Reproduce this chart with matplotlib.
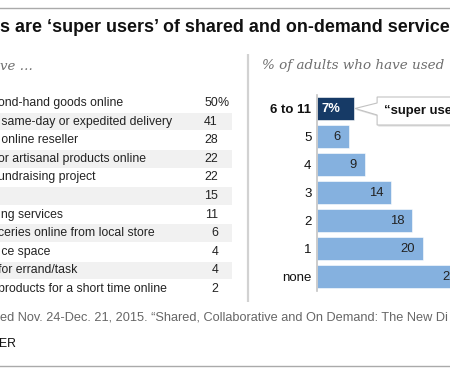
import matplotlib
matplotlib.use("Agg")
import matplotlib.pyplot as plt
from matplotlib.patches import Polygon

# ---- data ----
title = "s are \u2018super users\u2019 of shared and on-demand service"
left_sub = "ve \u2026"
right_sub = "% of adults who have used"
activity_labels = [
    "ond-hand goods online",
    " same-day or expedited delivery",
    " online reseller",
    "or artisanal products online",
    "undraising project",
    "",
    "ing services",
    "ceries online from local store",
    " ce space",
    "for errand/task",
    "products for a short time online",
]
activity_values = [50, 41, 28, 22, 22, 15, 11, 6, 4, 4, 2]
count_labels = ["6 to 11", "5", "4", "3", "2", "1", "none"]
count_values = [7, 6, 9, 14, 18, 20, 28]
callout_text = "\u201csuper users\u201d"
source_text = "ed Nov. 24-Dec. 21, 2015. \u201cShared, Collaborative and On Demand: The New Di"
org_text = "ER"

W, H = 450, 375
SANS = ["Liberation Sans", "DejaVu Sans"]
SERIF = ["DejaVu Serif"]
DARK = "#163a66"
LIGHT = "#85b1df"
TXT = "#222222"

fig = plt.figure(figsize=(4.5, 3.75), dpi=100)

def frac(x0, y0, x1, y1):
    return [x0 / W, 1 - y1 / H, (x1 - x0) / W, (y1 - y0) / H]

# overlay in pixel coordinates
ov = fig.add_axes([0, 0, 1, 1], zorder=5)
ov.set_xlim(0, W)
ov.set_ylim(H, 0)
ov.axis("off")
ov.patch.set_visible(False)

ov.axhline(8, color="#aaaaaa", lw=1)
ov.axhline(366, color="#aaaaaa", lw=1)
ov.plot([247.5, 247.5], [54, 302], color="#d2d2d2", lw=1.6, solid_capstyle="butt")

ov.text(0.5, 28, title, fontsize=12.85, fontweight="bold", family=SANS,
        ha="left", va="center", color="#111111")
ov.text(-0.5, 66, left_sub, fontsize=9.5, style="italic", family=SERIF,
        ha="left", va="center", color="#6f6f6f")
ov.text(262, 66, right_sub, fontsize=9.7, style="italic", family=SERIF,
        ha="left", va="center", color="#6f6f6f")
ov.text(-0.5, 318, source_text, fontsize=9.2, family=SANS,
        ha="left", va="center", color="#666666")
ov.text(-0.5, 344, org_text, fontsize=8.8, family=SANS,
        ha="left", va="center", color="#111111")

# ---- left table ----
n = len(activity_labels)
tab = fig.add_axes(frac(0, 93.7, 248, 298.3), zorder=1)
tab.set_xlim(0, 248)
tab.set_ylim(n - 0.5, -0.5)
tab.axis("off")
for i, (lab, val) in enumerate(zip(activity_labels, activity_values)):
    if i % 2 == 1:
        tab.axhspan(i - 0.47, i + 0.47, xmin=0, xmax=232 / 248,
                    color="#f1f1f1", lw=0, zorder=0)
    tab.text(-1.5, i, lab, fontsize=8.8, family=SANS, ha="left",
             va="center", color=TXT)
    tab.text(218, i, str(val), fontsize=8.9, family=SANS, ha="right",
             va="center", color=TXT)
    if i == 0:
        tab.text(218, i, "%", fontsize=8.9, family=SANS, ha="left",
                 va="center", color=TXT)

# ---- right bar chart ----
scale = 5.3  # px per unit
xmax = 30
ax = fig.add_axes(frac(317, 94.5, 317 + scale * xmax, 290.5), zorder=2)
ax.set_xlim(0, xmax)
ax.set_ylim(len(count_values) - 0.5, -0.5)
ax.patch.set_visible(False)
colors = [DARK] + [LIGHT] * (len(count_values) - 1)
ax.barh(range(len(count_values)), count_values, height=0.79,
        color=colors, edgecolor="white", linewidth=0.4)
for s in ["top", "right", "bottom"]:
    ax.spines[s].set_visible(False)
ax.spines["left"].set_color("#c4c4c4")
ax.spines["left"].set_linewidth(1.2)
ax.set_xticks([])
ax.set_yticks(range(len(count_labels)))
ax.set_yticklabels(count_labels, fontsize=9.5, family=SANS, color="#111111")
ax.get_yticklabels()[0].set_fontweight("bold")
ax.tick_params(axis="y", length=0, pad=4)

for i, v in enumerate(count_values):
    lab = f"{v}%" if i == 0 else str(v)
    pad = 10 if i == 0 else 5.8
    ax.annotate(lab, xy=(v, i), xytext=(-pad, 0), textcoords="offset points",
                ha="right", va="center", fontsize=9.4, family=SANS,
                color="white" if i == 0 else TXT,
                fontweight="bold" if i == 0 else "normal")

# ---- callout pointing at the "super users" bar ----
tip_disp = ax.transData.transform((count_values[0], 0))
tx, ty = ov.transData.inverted().transform(tip_disp)
tx += 1
bl = tx + 22          # box left
bt, bb = ty - 11.5, ty + 16.5   # box top/bottom
shape = [(tx, ty), (bl, ty - 5.5), (bl, bt), (W + 20, bt), (W + 20, bb),
         (bl, bb), (bl, ty + 6.5)]
shadow = Polygon([(x + 1.2, y + 1.6) for x, y in shape], closed=True,
                 fc="#000000", alpha=0.12, ec="none", zorder=6)
box = Polygon(shape, closed=True, fc="white", ec="#c2c2c2", lw=0.8, zorder=7)
ov.add_patch(shadow)
ov.add_patch(box)
ov.text(bl + 7, ty + 2.5, callout_text, fontsize=9.4, fontweight="bold",
        family=SANS, ha="left", va="center", color="#111111", zorder=8)

fig.savefig("out.png", dpi=100)
